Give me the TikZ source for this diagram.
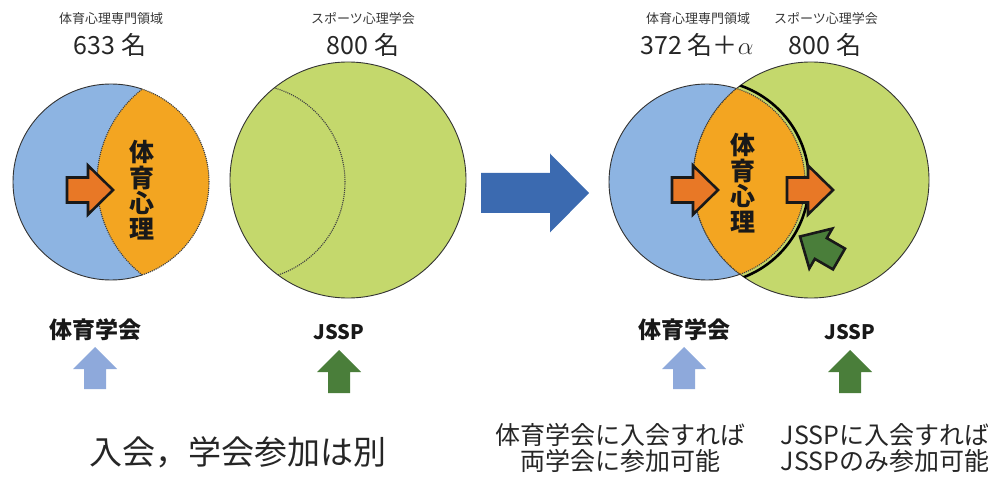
\documentclass[tikz,border=0pt]{standalone}
\usepackage{fontspec}
\setmainfont{Noto Sans CJK JP}
\definecolor{circblue}{RGB}{141,180,226}
\definecolor{circgreen}{RGB}{196,216,108}
\definecolor{lensorange}{RGB}{243,165,33}
\definecolor{arroworange}{RGB}{232,120,38}
\definecolor{bigblue}{RGB}{59,106,176}
\definecolor{upblue}{RGB}{142,169,219}
\definecolor{upgreen}{RGB}{74,126,58}
\definecolor{textgrey}{RGB}{55,55,55}

\begin{document}
\begin{tikzpicture}[x=1pt,y=-1pt,
   rim/.style={draw=black!80, line width=0.9pt},
   dotline/.style={draw=black!75, line width=1.1pt, densely dotted},
   head/.style={text=textgrey, font=\fontsize{13}{14}\selectfont, inner sep=0pt},
   num/.style={text=black!85, font=\fontsize{25}{26}\selectfont, inner sep=0pt},
   lenstext/.style={text=black!90, font=\fontsize{25}{25.5}\selectfont\bfseries, align=center, inner sep=0pt},
   society/.style={text=black!90, font=\fontsize{23}{24}\selectfont\bfseries, inner sep=0pt},
   note/.style={text=black!85, font=\fontsize{25}{25.5}\selectfont, align=center, inner sep=0pt},
   pics/blockarrow/.style args={#1/#2/#3/#4}{code={
      \path[pic actions] (0,-#3) -- (#2,-#3) -- (#2,-#4) -- (#1,0)
         -- (#2,#4) -- (#2,#3) -- (0,#3) -- cycle;}},
   outlined/.style={draw=black!90, line width=2.6pt, line join=miter}]
   \useasboundingbox (0,0) rectangle (988,481);

   % left panel: separate membership
   \coordinate (b1) at (111,182);
   \coordinate (g1) at (348,180);
   \fill[circblue] (b1) circle[radius=98pt];
   \begin{scope}[even odd rule]
      \clip (0,0) rectangle (988,481) (215,182) circle[radius=118pt];
      \draw[rim] (b1) circle[radius=98pt];
   \end{scope}
   \begin{scope}
      \clip (b1) circle[radius=98pt];
      \fill[lensorange] (215,182) circle[radius=118pt];
      \draw[dotline] (215,182) circle[radius=118pt];
   \end{scope}
   \begin{scope}
      \clip (215,182) circle[radius=118pt];
      \draw[dotline] (b1) circle[radius=98pt];
   \end{scope}
   \fill[circgreen] (g1) circle[radius=118pt];
   \draw[rim] (g1) circle[radius=118pt];
   \begin{scope}
      \clip (g1) circle[radius=118pt];
      \draw[dotline] (247,182) circle[radius=98pt];
   \end{scope}
   \pic[fill=arroworange, outlined] at (67,190) {blockarrow=46/21/12.5/24.5};

   % big arrow
   \pic[fill=bigblue] at (481,193) {blockarrow=108/69/20/39.5};

   % right panel: joint membership
   \coordinate (b2) at (707,182);
   \coordinate (g2) at (811,180);
   \fill[circblue] (b2) circle[radius=98pt];
   \draw[rim] (b2) circle[radius=98pt];
   \fill[circgreen] (g2) circle[radius=118pt];
   \draw[rim] (g2) circle[radius=118pt];
   \begin{scope}
      \clip (b2) circle[radius=98pt];
      \fill[lensorange] (g2) circle[radius=118pt];
      \draw[dotline] (g2) circle[radius=118pt];
   \end{scope}
   \begin{scope}
      \clip (g2) circle[radius=118pt];
      \draw[dotline] (b2) circle[radius=98pt];
      \draw[line width=2.6pt] (b2) circle[radius=102pt];
   \end{scope}
   \pic[fill=arroworange, outlined] at (672,190) {blockarrow=46/21/12.5/24.5};
   \pic[fill=arroworange, outlined] at (787,190) {blockarrow=46/21/12.5/24.5};
   \pic[fill=upgreen, outlined, rotate=150] at (839,259) {blockarrow=45/21/12/23};

   % labels
   \node[head] (h1) at (111,19) {体育心理専門領域};
   \node[num] (n1) at (110,45) {633 名};
   \node[head] (h2) at (363,19) {スポーツ心理学会};
   \node[num] (n2) at (363,45) {800 名};
   \node[head] (h3) at (698,19) {体育心理専門領域};
   \node[num] (n3) at (697,45) {372 名＋$\alpha$};
   \node[head] (h4) at (826,19) {スポーツ心理学会};
   \node[num] (n4) at (825,45) {800 名};
   \node[lenstext] (l1) at (142,190) {体\\育\\心\\理};
   \node[lenstext] (l2) at (743,183) {体\\育\\心\\理};

   % societies
   \node[society] (s1) at (95,330) {体育学会};
   \node[society, font=\fontsize{20}{21}\selectfont\bfseries] (s2) at (339,332) {JSSP};
   \node[society] (s3) at (684,330) {体育学会};
   \node[society, font=\fontsize{20}{21}\selectfont\bfseries] (s4) at (850,332) {JSSP};
   \pic[fill=upblue, rotate=90] at (95,389) {blockarrow=42/20/11/22};
   \pic[fill=upgreen, rotate=90] at (339,393) {blockarrow=43/21/11/22};
   \pic[fill=upblue, rotate=90] at (684,389) {blockarrow=42/20/11/22};
   \pic[fill=upgreen, rotate=90] at (850,393) {blockarrow=43/21/11/22};

   % notes
   \node[note, font=\fontsize{33}{34}\selectfont] (t1) at (238,452) {入会，学会参加は別};
   \node[note] (t2) at (620,448) {体育学会に入会すれば\\両学会に参加可能};
   \node[note] (t3) at (885,448) {JSSPに入会すれば\\JSSPのみ参加可能};
\end{tikzpicture}
\end{document}
